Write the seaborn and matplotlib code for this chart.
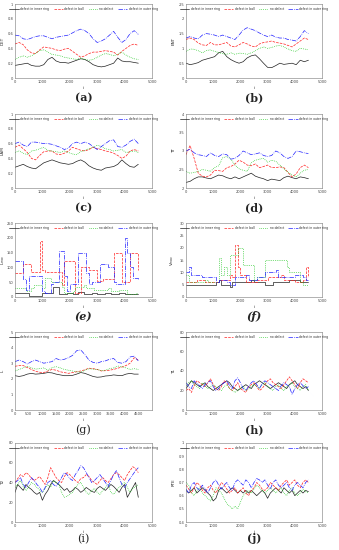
import numpy as np
import pandas as pd
import matplotlib.pyplot as plt
import seaborn as sns

sns.set_style("white")

# sample index
x31 = list(range(0, 4501, 150))
x46 = list(range(0, 4501, 100))

# (a) DET
det_inner = [0.17,0.18,0.19,0.20,0.17,0.16,0.16,0.18,0.25,0.28,0.23,0.21,0.21,0.20,0.22,0.24,0.26,0.25,0.22,0.18,0.16,0.15,0.16,0.18,0.20,0.27,0.23,0.22,0.22,0.21,0.20]
det_ball = [0.46,0.48,0.45,0.38,0.34,0.33,0.38,0.42,0.41,0.40,0.38,0.37,0.39,0.40,0.36,0.32,0.28,0.30,0.33,0.35,0.35,0.36,0.37,0.36,0.35,0.31,0.36,0.40,0.44,0.46,0.44]
det_none = [0.25,0.28,0.30,0.28,0.30,0.33,0.37,0.38,0.35,0.32,0.31,0.30,0.28,0.27,0.26,0.25,0.27,0.25,0.24,0.25,0.28,0.31,0.33,0.32,0.30,0.32,0.35,0.31,0.28,0.26,0.25]
det_outer = [0.58,0.57,0.53,0.52,0.54,0.56,0.57,0.57,0.55,0.53,0.55,0.56,0.57,0.58,0.61,0.64,0.66,0.64,0.60,0.53,0.48,0.50,0.53,0.58,0.63,0.55,0.48,0.52,0.60,0.64,0.59]

# (b) ENT
ent_inner = [0.50,0.45,0.48,0.52,0.60,0.64,0.68,0.72,0.85,0.90,0.72,0.62,0.55,0.50,0.55,0.68,0.75,0.78,0.65,0.50,0.36,0.35,0.42,0.50,0.46,0.48,0.50,0.45,0.60,0.55,0.60]
ent_ball = [1.30,1.35,1.30,1.18,1.12,1.10,1.20,1.12,1.12,1.16,1.20,1.08,1.05,1.12,1.20,1.15,1.08,1.05,1.15,1.20,1.22,1.25,1.20,1.18,1.15,1.10,1.05,1.15,1.25,1.35,1.30]
ent_none = [0.90,0.98,0.97,0.92,0.85,0.93,0.95,0.90,0.86,0.82,0.80,0.85,0.80,0.84,0.83,0.80,0.85,0.92,1.00,1.05,1.00,1.03,1.08,1.10,1.05,0.98,0.92,0.90,1.00,0.98,0.95]
ent_outer = [1.35,1.40,1.35,1.32,1.45,1.50,1.48,1.45,1.40,1.45,1.40,1.35,1.30,1.45,1.62,1.70,1.65,1.60,1.52,1.45,1.40,1.45,1.38,1.35,1.35,1.30,1.28,1.25,1.40,1.60,1.50]

# (c) LAM
lam_inner = [0.28,0.30,0.32,0.29,0.27,0.26,0.30,0.34,0.36,0.38,0.36,0.34,0.33,0.32,0.33,0.36,0.38,0.35,0.30,0.27,0.25,0.24,0.27,0.28,0.29,0.32,0.38,0.33,0.29,0.28,0.32]
lam_ball = [0.55,0.58,0.53,0.48,0.40,0.38,0.44,0.49,0.50,0.50,0.46,0.45,0.47,0.50,0.55,0.53,0.51,0.50,0.52,0.55,0.53,0.52,0.50,0.49,0.47,0.44,0.40,0.43,0.50,0.52,0.50]
lam_none = [0.48,0.50,0.47,0.45,0.50,0.51,0.53,0.55,0.51,0.50,0.49,0.48,0.50,0.48,0.46,0.45,0.49,0.51,0.53,0.55,0.58,0.56,0.53,0.52,0.50,0.51,0.52,0.48,0.49,0.50,0.48]
lam_outer = [0.60,0.62,0.58,0.56,0.62,0.62,0.61,0.60,0.60,0.59,0.57,0.55,0.52,0.54,0.60,0.62,0.60,0.62,0.60,0.56,0.52,0.56,0.60,0.64,0.65,0.56,0.55,0.58,0.63,0.66,0.60]

# (d) TT
tt_inner = [2.15,2.18,2.25,2.30,2.30,2.27,2.25,2.30,2.35,2.33,2.28,2.25,2.30,2.25,2.30,2.35,2.40,2.32,2.28,2.25,2.20,2.24,2.22,2.20,2.28,2.32,2.28,2.25,2.30,2.28,2.25]
tt_ball = [2.90,3.15,2.80,2.40,2.32,2.30,2.35,2.48,2.47,2.45,2.55,2.58,2.65,2.75,2.70,2.62,2.60,2.65,2.55,2.58,2.62,2.55,2.55,2.57,2.55,2.42,2.30,2.38,2.55,2.62,2.55]
tt_none = [2.45,2.40,2.42,2.45,2.50,2.48,2.45,2.55,2.60,2.82,2.85,2.78,2.62,2.52,2.48,2.45,2.68,2.75,2.78,2.80,2.70,2.75,2.72,2.62,2.52,2.42,2.35,2.30,2.40,2.48,2.50]
tt_outer = [3.00,3.05,2.95,2.90,2.88,2.85,2.95,2.88,2.85,2.92,2.90,2.78,2.80,2.88,3.00,2.95,2.90,2.92,2.95,2.88,2.85,2.88,3.00,2.95,2.85,2.80,2.85,3.00,2.98,2.95,2.93]

# (e) Lmax
lmax_inner = [15,15,15,15,15,5,5,5,5,5,15,15,15,15,35,35,10,10,10,12,12,10,10,18,18,10,10,10,12,12,10,10,10,15,15,10,10,10,12,12,10,10,10,10,10,10]
lmax_ball = [80,80,80,110,110,110,85,85,85,190,90,85,85,85,85,85,85,40,120,120,120,120,15,15,100,100,100,90,90,90,55,55,60,60,60,60,150,150,150,50,50,50,150,150,150,90]
lmax_none = [30,30,30,30,20,20,30,40,40,40,30,65,65,50,50,50,50,35,15,15,15,20,35,35,35,40,30,30,30,25,25,25,25,25,30,20,20,20,25,25,25,10,10,10,15,15]
lmax_outer = [120,120,120,60,25,70,70,70,70,70,20,15,15,45,50,50,155,155,70,20,45,45,45,150,150,150,80,45,50,50,50,110,110,110,100,100,50,45,45,45,200,150,100,65,65,60]

# (f) Vmax
vmax_inner = [5,5,5,5,5,5,5,5,5,5,5,6,7,5,5,5,4,6,6,6,6,6,6,6,7,6,6,6,6,5,5,5,6,6,6,6,6,6,7,7,7,7,6,6,6,6]
vmax_ball = [6,6,6,6,7,7,7,6,6,6,6,6,7,7,7,7,9,8,21,12,9,9,6,6,6,6,7,7,7,7,8,8,8,8,8,9,7,7,7,7,6,6,6,7,12,8]
vmax_none = [9,6,6,6,6,6,6,7,6,6,6,6,16,9,12,9,17,17,17,20,20,13,13,13,13,7,8,8,8,15,15,15,15,15,15,15,15,12,10,10,10,10,6,5,5,5]
vmax_outer = [10,12,9,9,9,9,8,8,8,8,8,6,7,7,7,6,5,5,8,8,8,8,9,7,7,7,8,8,8,10,10,10,10,11,8,8,8,8,8,8,9,9,9,8,7,7]

# (g) L
l_inner = [2.20,2.15,2.20,2.30,2.35,2.30,2.32,2.35,2.40,2.38,2.30,2.25,2.20,2.20,2.22,2.30,2.40,2.35,2.25,2.15,2.10,2.12,2.18,2.20,2.25,2.22,2.20,2.30,2.35,2.30,2.30]
l_ball = [2.80,2.85,2.85,2.72,2.60,2.48,2.42,2.40,2.50,2.60,2.55,2.45,2.40,2.35,2.40,2.45,2.50,2.58,2.68,2.65,2.60,2.50,2.52,2.55,2.60,2.68,2.75,2.85,3.00,3.35,3.20]
l_none = [2.50,2.60,2.70,2.80,2.70,2.62,2.65,2.70,2.55,2.72,2.78,2.70,2.60,2.55,2.50,2.45,2.42,2.55,2.65,2.62,2.60,2.52,2.55,2.65,2.70,2.82,2.78,2.70,2.60,2.65,2.60]
l_outer = [3.10,3.20,3.10,2.95,3.10,3.20,3.10,3.00,3.05,3.10,3.30,3.20,3.25,3.35,3.50,3.80,3.85,3.55,3.20,3.05,3.00,3.10,3.15,3.25,3.30,3.05,3.00,3.10,3.40,3.45,3.15]

# (h) T1
t1_inner = [22,26,30,28,26,24,26,28,24,22,20,22,24,26,28,30,28,24,22,20,22,24,26,24,22,26,28,30,28,26,24,22,24,26,28,26,24,22,26,28,30,26,24,22,24,20]
t1_ball = [20,22,18,25,30,28,26,24,28,32,26,22,20,24,30,28,22,20,24,28,22,20,18,24,26,28,24,20,22,26,30,32,28,26,24,22,26,30,34,30,26,22,28,32,30,28]
t1_none = [25,28,30,26,24,22,28,25,22,24,26,24,22,20,24,26,22,20,18,20,22,24,20,22,24,26,24,22,26,28,24,22,20,24,26,22,20,24,26,28,24,22,20,24,26,20]
t1_outer = [28,24,22,30,27,25,22,26,28,30,24,20,22,26,28,30,25,22,30,33,28,22,20,24,28,30,26,22,27,30,28,26,24,22,20,25,28,26,24,16,22,26,28,25,22,24]

# (i) T2
t2_inner = [30,38,35,32,38,35,33,30,28,30,22,28,32,38,42,40,38,35,32,34,30,32,35,33,30,32,35,33,31,30,34,36,34,32,35,38,36,33,30,35,38,25,30,35,40,25]
t2_ball = [40,44,48,46,50,48,44,42,44,46,42,38,45,55,50,45,42,40,46,50,48,45,42,40,44,45,48,46,42,40,38,42,45,42,40,44,48,50,48,45,42,48,52,56,54,50]
t2_none = [35,38,42,36,32,35,40,38,35,32,30,34,38,35,42,40,38,30,25,26,28,30,35,38,40,35,30,28,32,34,30,28,32,35,38,30,28,32,35,38,40,35,30,34,36,38]
t2_outer = [40,42,45,38,35,40,45,42,38,35,30,35,40,42,38,36,40,45,50,48,44,42,48,52,57,55,50,45,40,42,45,48,44,40,36,42,48,52,45,38,35,40,44,48,52,55]

# (j) RTE
rte_inner = [0.64,0.62,0.64,0.66,0.62,0.64,0.66,0.64,0.62,0.60,0.56,0.58,0.64,0.66,0.64,0.62,0.64,0.66,0.64,0.62,0.64,0.62,0.64,0.62,0.64,0.62,0.60,0.62,0.64,0.62,0.58,0.62,0.64,0.66,0.64,0.62,0.66,0.64,0.62,0.64,0.60,0.62,0.64,0.62,0.64,0.63]
rte_ball = [0.68,0.65,0.62,0.66,0.70,0.68,0.64,0.62,0.66,0.68,0.64,0.62,0.66,0.70,0.68,0.65,0.62,0.64,0.66,0.62,0.64,0.66,0.62,0.60,0.64,0.66,0.70,0.68,0.65,0.64,0.66,0.70,0.68,0.66,0.64,0.68,0.70,0.72,0.68,0.70,0.72,0.68,0.66,0.70,0.72,0.70]
rte_none = [0.70,0.68,0.62,0.60,0.64,0.66,0.62,0.60,0.58,0.56,0.60,0.66,0.64,0.62,0.58,0.54,0.52,0.50,0.52,0.50,0.55,0.60,0.62,0.64,0.62,0.65,0.68,0.66,0.64,0.62,0.64,0.66,0.64,0.62,0.64,0.66,0.62,0.60,0.64,0.66,0.62,0.60,0.62,0.65,0.63,0.62]
rte_outer = [0.65,0.62,0.68,0.70,0.66,0.64,0.68,0.65,0.62,0.66,0.70,0.72,0.68,0.65,0.68,0.70,0.66,0.64,0.70,0.72,0.70,0.68,0.72,0.70,0.66,0.70,0.73,0.72,0.70,0.72,0.68,0.65,0.70,0.72,0.68,0.66,0.68,0.70,0.66,0.64,0.68,0.70,0.68,0.66,0.70,0.72]

labels = ["defect in inner ring", "defect in ball", "no defect", "defect in outer ring"]
colors = ["#202020", "#ff2020", "#00c000", "#2020ff"]
styles = ["-", "--", ":", "-."]

panels = [
    ("(a)", "DET", x31, [det_inner, det_ball, det_none, det_outer], (0, 1), np.arange(0, 1.01, 0.2), None),
    ("(b)", "ENT", x31, [ent_inner, ent_ball, ent_none, ent_outer], (0, 2.5), np.arange(0, 2.51, 0.5), None),
    ("(c)", "LAM", x31, [lam_inner, lam_ball, lam_none, lam_outer], (0, 1), np.arange(0, 1.01, 0.2), None),
    ("(d)", "TT", x31, [tt_inner, tt_ball, tt_none, tt_outer], (2, 4), np.arange(2, 4.01, 0.5), None),
    ("(e)", "L$_{max}$", x46, [lmax_inner, lmax_ball, lmax_none, lmax_outer], (0, 250), np.arange(0, 251, 50), "steps-post"),
    ("(f)", "V$_{max}$", x46, [vmax_inner, vmax_ball, vmax_none, vmax_outer], (0, 30), np.arange(0, 31, 5), "steps-post"),
    ("(g)", "L", x31, [l_inner, l_ball, l_none, l_outer], (0, 5), np.arange(0, 5.01, 1), None),
    ("(h)", "T1", x46, [t1_inner, t1_ball, t1_none, t1_outer], (0, 80), np.arange(0, 81, 20), None),
    ("(i)", "T2", x46, [t2_inner, t2_ball, t2_none, t2_outer], (0, 80), np.arange(0, 81, 20), None),
    ("(j)", "RTE", x46, [rte_inner, rte_ball, rte_none, rte_outer], (0.4, 1), np.arange(0.4, 1.01, 0.1), None),
]

W, H = 339, 550
fig = plt.figure(figsize=(W / 100, H / 100), dpi=100)

cols = [(15, 137), (186, 136)]
rows = [(4, 78, 98), (114, 188, 208), (223, 297, 317), (332, 410, 430), (443, 522, 539)]
tag_style = {"(e)": "italic", "(f)": "italic"}
tag_weight = {"(g)": "normal", "(i)": "normal"}

for k, (tag, ylab, xs, series, ylim, yticks, ds) in enumerate(panels):
    r, c = divmod(k, 2)
    left, width = cols[c]
    top, bottom, ty = rows[r]
    ax = fig.add_axes([left / W, 1 - bottom / H, width / W, (bottom - top) / H])
    for vals, lab, col, ls in zip(series, labels, colors, styles):
        kw = {"drawstyle": ds} if ds else {}
        sns.lineplot(x=xs, y=vals, ax=ax, color=col, linestyle=ls, linewidth=0.5, label=lab, **kw)
    ax.set_xlim(0, 5000)
    ax.set_ylim(*ylim)
    ax.set_yticks(yticks)
    if tag == "(g)":
        ax.set_xticks(np.arange(0, 4501, 500))
    else:
        ax.set_xticks(np.arange(0, 5001, 1000))
    ax.yaxis.set_major_formatter(plt.FuncFormatter(lambda v, p: f"{v:g}"))
    ax.tick_params(labelsize=2.6, length=1.5, width=0.3, direction="in", pad=1.2, colors="#444444")
    for s in ax.spines.values():
        s.set_linewidth(0.4)
        s.set_color("#777777")
    ax.set_xlabel("i", fontsize=3, labelpad=1.5)
    ax.set_ylabel(ylab, fontsize=3)
    ax.yaxis.set_label_coords(-0.055 if tag == "(e)" else -0.075, 0.5)
    ax.legend(loc="upper center", ncol=4, fontsize=2.2, frameon=False, handlelength=3,
              columnspacing=1.5, handletextpad=0.5, borderaxespad=0.6)
    fig.text((left + width / 2) / W, 1 - ty / H, tag, ha="center", va="center",
             fontsize=8, family="DejaVu Serif", weight=tag_weight.get(tag, "bold"),
             style=tag_style.get(tag, "normal"))

fig.savefig("out.png", dpi=100)
